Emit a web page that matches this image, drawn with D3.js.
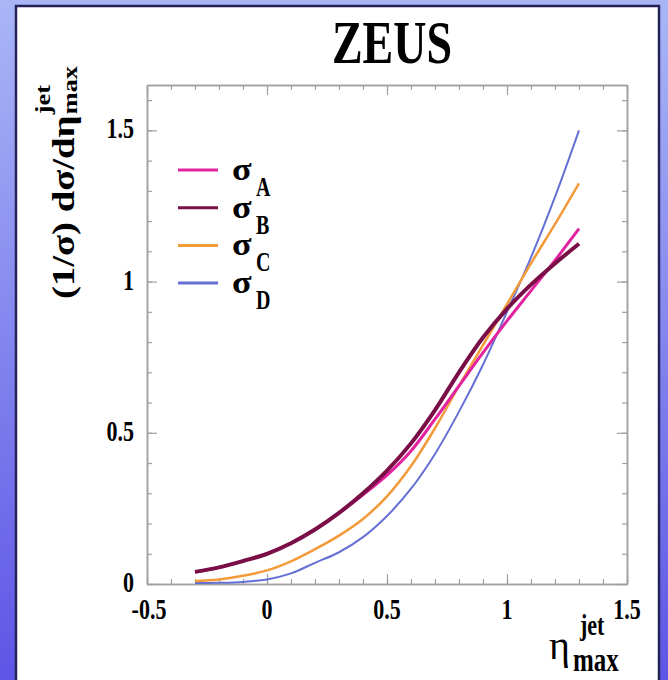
<!DOCTYPE html>
<html>
<head>
<meta charset="utf-8">
<script src="https://cdn.jsdelivr.net/npm/d3@7"></script>
<style>
  body { margin: 0; background: #fff; }
  svg { display: block; }
</style>
</head>
<body>
<svg id="chart" width="668" height="680"></svg>
<script>
// eta_max^jet grid and the four normalised cross sections
const etaValues = [-0.3, -0.2, -0.1, 0.0, 0.1, 0.2, 0.3, 0.4, 0.5, 0.6, 0.7, 0.8, 0.9, 1.0, 1.1, 1.2, 1.3];
const sigmaA = [0.04, 0.055, 0.076, 0.10, 0.135, 0.18, 0.235, 0.295, 0.36, 0.44, 0.545, 0.655, 0.765, 0.87, 0.97, 1.07, 1.175];
const sigmaB = [0.04, 0.055, 0.076, 0.10, 0.135, 0.18, 0.235, 0.30, 0.375, 0.465, 0.575, 0.70, 0.815, 0.91, 0.99, 1.06, 1.125];
const sigmaC = [0.01, 0.015, 0.027, 0.045, 0.075, 0.115, 0.16, 0.215, 0.29, 0.39, 0.515, 0.655, 0.79, 0.925, 1.06, 1.19, 1.325];
const sigmaD = [0.003, 0.004, 0.007, 0.015, 0.035, 0.07, 0.105, 0.155, 0.225, 0.315, 0.43, 0.57, 0.725, 0.90, 1.08, 1.28, 1.5];
const seriesNames = ['A', 'B', 'C', 'D'];
const xTicks = [-0.5, 0, 0.5, 1, 1.5];
const yTicks = [0, 0.5, 1, 1.5];
const xTickLabels = ['-0.5', '0', '0.5', '1', '1.5'];
const yTickLabels = ['0', '0.5', '1', '1.5'];

const series = [
  {name: 'A', values: sigmaA, color: '#e2239f', width: 3},
  {name: 'B', values: sigmaB, color: '#7a0f48', width: 4},
  {name: 'C', values: sigmaC, color: '#f39a3a', width: 2.5},
  {name: 'D', values: sigmaD, color: '#6570d4', width: 2}
];
// draw order: D and C under, A then B on top like the original
const drawOrder = ['D', 'C', 'A', 'B'];

const svg = d3.select('#chart');
const W = 668, H = 680;
const margin = {left: 147, right: 41, top: 85, bottom: 96};
const serif = "'Liberation Serif', 'Times New Roman', Times, serif";
const stretch = 1.34; // the original is squeezed, text looks tall

// slide background
const defs = svg.append('defs');
const grad = defs.append('linearGradient').attr('id', 'bg')
  .attr('x1', 0).attr('y1', 0).attr('x2', 0).attr('y2', 1);
grad.append('stop').attr('offset', '0%').attr('stop-color', '#a9b6f6');
grad.append('stop').attr('offset', '100%').attr('stop-color', '#5d55e6');
svg.append('rect').attr('width', W).attr('height', H).attr('fill', 'url(#bg)');

svg.append('rect')
  .attr('x', 16).attr('y', 6)
  .attr('width', 643).attr('height', 700)
  .attr('fill', '#fff')
  .attr('stroke', '#23235a')
  .attr('stroke-width', 2.5);

const x = d3.scaleLinear().domain([-0.5, 1.5]).range([margin.left, W - margin.right]);
const y = d3.scaleLinear().domain([0, 1.65]).range([H - margin.bottom, margin.top]);

const frameColor = '#a0a0a0';
const minorX = d3.range(-0.5, 1.5001, 0.1);
const minorY = d3.range(0, 1.65, 0.1);

function axisGroup(axis, tx, ty) {
  const g = svg.append('g').attr('transform', `translate(${tx},${ty})`).call(axis);
  g.selectAll('line').attr('stroke', frameColor).attr('stroke-width', 1.2);
  g.selectAll('path').attr('stroke', frameColor).attr('stroke-width', 1.5);
  g.selectAll('text').remove();
  return g;
}

// ticks point inwards on all four sides
const bottomY = y(0), topY = y(1.65), leftX = x(-0.5), rightX = x(1.5);
axisGroup(d3.axisBottom(x).tickValues(minorX).tickSizeInner(-5).tickSizeOuter(0), 0, bottomY);
axisGroup(d3.axisBottom(x).tickValues(xTicks).tickSizeInner(-10).tickSizeOuter(0), 0, bottomY);
axisGroup(d3.axisTop(x).tickValues(minorX).tickSizeInner(-5).tickSizeOuter(0), 0, topY);
axisGroup(d3.axisTop(x).tickValues(xTicks).tickSizeInner(-10).tickSizeOuter(0), 0, topY);
axisGroup(d3.axisLeft(y).tickValues(minorY).tickSizeInner(-5).tickSizeOuter(0), leftX, 0);
axisGroup(d3.axisLeft(y).tickValues(yTicks).tickSizeInner(-10).tickSizeOuter(0), leftX, 0);
axisGroup(d3.axisRight(y).tickValues(minorY).tickSizeInner(-5).tickSizeOuter(0), rightX, 0);
axisGroup(d3.axisRight(y).tickValues(yTicks).tickSizeInner(-10).tickSizeOuter(0), rightX, 0);

// tick labels
svg.append('g').selectAll('text')
  .data(xTicks)
  .join('text')
  .attr('transform', d => `translate(${x(d) + (d === -0.5 ? 2 : 0)},619) scale(1,${stretch})`)
  .attr('text-anchor', 'middle')
  .attr('font-family', serif)
  .attr('font-weight', 'bold')
  .attr('font-size', 22)
  .text((d, i) => xTickLabels[i]);

svg.append('g').selectAll('text')
  .data(yTicks)
  .join('text')
  .attr('transform', d => `translate(134,${y(d) + 8}) scale(1,${stretch})`)
  .attr('text-anchor', 'end')
  .attr('font-family', serif)
  .attr('font-weight', 'bold')
  .attr('font-size', 22)
  .text((d, i) => yTickLabels[i]);

// curves
const line = d3.line()
  .x((d, i) => x(etaValues[i]))
  .y(d => y(d))
  .curve(d3.curveCatmullRom.alpha(0.5));

svg.append('g').selectAll('path')
  .data(drawOrder.map(n => series.find(s => s.name === n)))
  .join('path')
  .attr('d', d => line(d.values))
  .attr('fill', 'none')
  .attr('stroke', d => d.color)
  .attr('stroke-width', d => d.width)
  .attr('stroke-linecap', 'butt');

// legend
const legend = svg.append('g');
series.forEach((s, i) => {
  const ly = 170 + i * 37.7;
  legend.append('line')
    .attr('x1', 178).attr('x2', 218)
    .attr('y1', ly).attr('y2', ly)
    .attr('stroke', s.color).attr('stroke-width', 3);
  legend.append('text')
    .attr('transform', `translate(232,${ly + 10}) scale(1.2,1.05)`)
    .attr('font-family', serif).attr('font-weight', 'bold').attr('font-size', 30)
    .text('σ');
  legend.append('text')
    .attr('transform', `translate(256,${ly + 26}) scale(1,${stretch})`)
    .attr('font-family', serif).attr('font-weight', 'bold').attr('font-size', 20)
    .text(seriesNames[i]);
});

// title
svg.append('text')
  .attr('transform', `translate(392,63) scale(1,${stretch})`)
  .attr('text-anchor', 'middle')
  .attr('font-family', serif)
  .attr('font-weight', 'bold')
  .attr('font-size', 46)
  .text('ZEUS');

// y axis title, reads upwards
const yt = svg.append('g').attr('transform', `translate(74,299) rotate(-90) scale(1.25,1)`);
const yMain = yt.append('text')
  .attr('font-family', serif).attr('font-weight', 'bold').attr('font-size', 31)
  .text('(1/σ) dσ/dη');
const L = yMain.node().getComputedTextLength();
yt.append('text')
  .attr('x', L + 1).attr('y', -24)
  .attr('font-family', serif).attr('font-weight', 'bold').attr('font-size', 21)
  .text('jet');
yt.append('text')
  .attr('x', L + 1).attr('y', 3)
  .attr('font-family', serif).attr('font-weight', 'bold').attr('font-size', 21)
  .text('max');

// x axis title
svg.append('text')
  .attr('transform', 'translate(549,659) scale(1,1.05)')
  .attr('font-family', serif).attr('font-size', 40)
  .text('η');
svg.append('text')
  .attr('transform', `translate(580,635) scale(1,${stretch})`)
  .attr('font-family', serif).attr('font-weight', 'bold').attr('font-size', 22)
  .text('jet');
svg.append('text')
  .attr('transform', `translate(573,671) scale(1,${stretch})`)
  .attr('font-family', serif).attr('font-weight', 'bold').attr('font-size', 25)
  .text('max');
</script>
</body>
</html>
